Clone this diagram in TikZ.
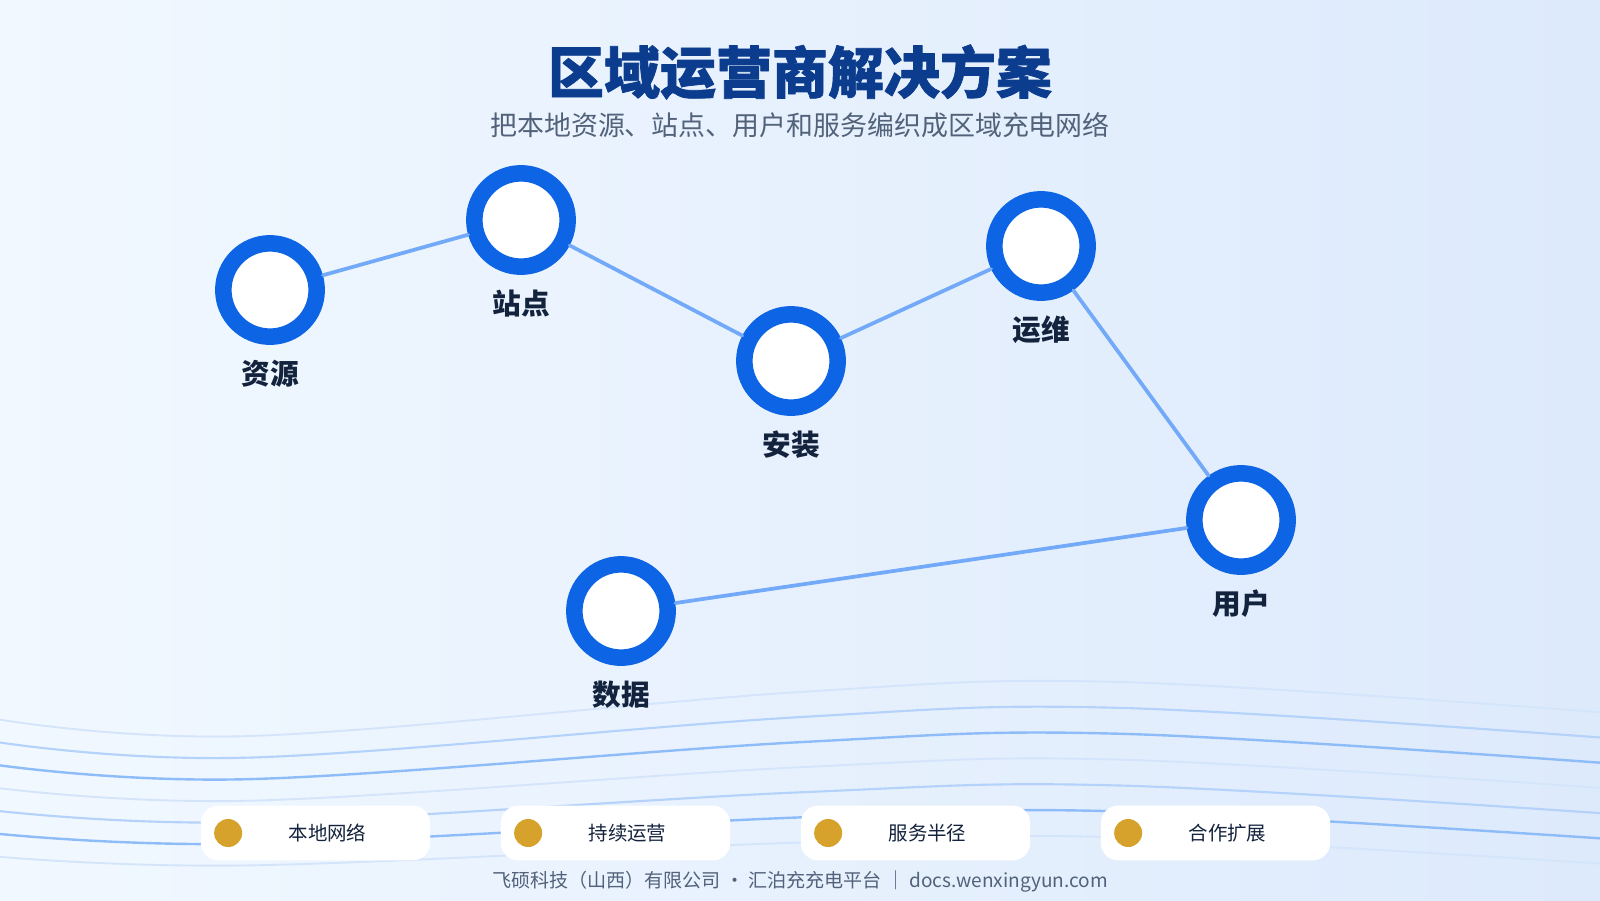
\documentclass[tikz,border=0pt]{standalone}
\usepackage{fontspec}
\setmainfont{Noto Sans CJK SC}
\newfontfamily\rgheavy[BoldFeatures={FakeBold=1.3}]{Noto Sans CJK SC}
\usepackage{xcolor}
\usepackage{tikz}
\usetikzlibrary{positioning}
\definecolor{rgRing}{HTML}{0D64E4}
\definecolor{rgLink}{HTML}{72A9F8}
\definecolor{rgTitle}{HTML}{0B3C8E}
\definecolor{rgInk}{HTML}{13233D}
\definecolor{rgMuted}{HTML}{52627A}
\definecolor{rgGold}{HTML}{D6A22B}
\definecolor{rgBgA}{HTML}{F1F8FF}
\definecolor{rgBgB}{HTML}{DDEAFC}
\definecolor{rgWaveA}{HTML}{D3E4FB}
\definecolor{rgWaveB}{HTML}{B4D2FA}
\definecolor{rgWaveC}{HTML}{8DBCF8}
\tikzset{
  rg diagram/.style={x=0.75pt, y=-0.75pt, line cap=round, line join=round},
  rg ring/.style={circle, draw=rgRing, fill=white, line width=12.4pt,
    minimum size=70pt, inner sep=0pt},
  rg link/.style={draw=rgLink, line width=2.8pt},
  rg label/.style={font=\bfseries\fontsize{21.5}{24}\selectfont, text=rgInk,
    inner sep=0pt},
  rg pill/.style={fill=white, rounded corners=13pt, minimum width=172pt,
    minimum height=41pt, inner sep=0pt},
  rg dot/.style={circle, fill=rgGold, minimum size=21pt, inner sep=0pt},
  rg pill text/.style={font=\fontsize{14.6}{17}\selectfont, text=rgInk,
    inner sep=0pt},
  rg wave 0/.style={draw=rgWaveA, line width=1.4pt},
  rg wave 1/.style={draw=rgWaveB, line width=1.6pt},
  rg wave 2/.style={draw=rgWaveC, line width=1.8pt}
}

\begin{document}
\begin{tikzpicture}[rg diagram]
\useasboundingbox (0,0) rectangle (1600,900);
\shade[left color=rgBgA, right color=rgBgB] (0,0) rectangle (1600,900);
% background waves
\foreach \i in {0,...,6}{
  \pgfmathsetmacro{\ya}{718+23*\i}
  \pgfmathsetmacro{\amp}{1-0.08*\i}
  \pgfmathtruncatemacro{\tone}{mod(\i,3)}
  \draw[rg wave \tone] plot[smooth, tension=0.6] coordinates
    {(-10,\ya) (250,{\ya+18*\amp}) (800,{\ya-26*\amp}) (1120,{\ya-36*\amp}) (1610,{\ya-5+2.2*\i})};
}
\node[font=\rgheavy\bfseries\fontsize{42}{48}\selectfont, text=rgTitle] (title) at (800,72) {区域运营商解决方案};
\node[font=\fontsize{20.2}{24}\selectfont, text=rgMuted] (subtitle) at (800,125) {把本地资源、站点、用户和服务编织成区域充电网络};
% stations
\node[rg ring] (resource) at (270,290) {};
\node[rg ring] (site) at (521,220) {};
\node[rg ring] (install) at (791,361) {};
\node[rg ring] (ops) at (1041,246) {};
\node[rg ring] (user) at (1241,520) {};
\node[rg ring] (data) at (621,611) {};
\draw[rg link] (resource) -- (site);
\draw[rg link] (site) -- (install);
\draw[rg link] (install) -- (ops);
\draw[rg link] (ops) -- (user);
\draw[rg link] (user) -- (data);
\node[rg label, below=11pt of resource] (resource label) {资源};
\node[rg label, below=11pt of site] (site label) {站点};
\node[rg label, below=11pt of install] (install label) {安装};
\node[rg label, below=11pt of ops] (ops label) {运维};
\node[rg label, below=11pt of user] (user label) {用户};
\node[rg label, below=11pt of data] (data label) {数据};
% bottom tags
\foreach \tag [count=\i] in {本地网络,持续运营,服务半径,合作扩展}{
  \node[rg pill] (pill\i) at ({15.5+300*\i},833) {};
  \node[rg dot, right=10pt of pill\i.west] (dot\i) {};
  \node[rg pill text] (tag\i) at ([xshift=9pt]pill\i.center) {\tag};
}
\node[font=\fontsize{14.3}{17}\selectfont, text=rgMuted] (footer) at (800,881)
  {飞硕科技（山西）有限公司 · 汇泊充充电平台 ｜ docs.wenxingyun.com};
\end{tikzpicture}
\end{document}
